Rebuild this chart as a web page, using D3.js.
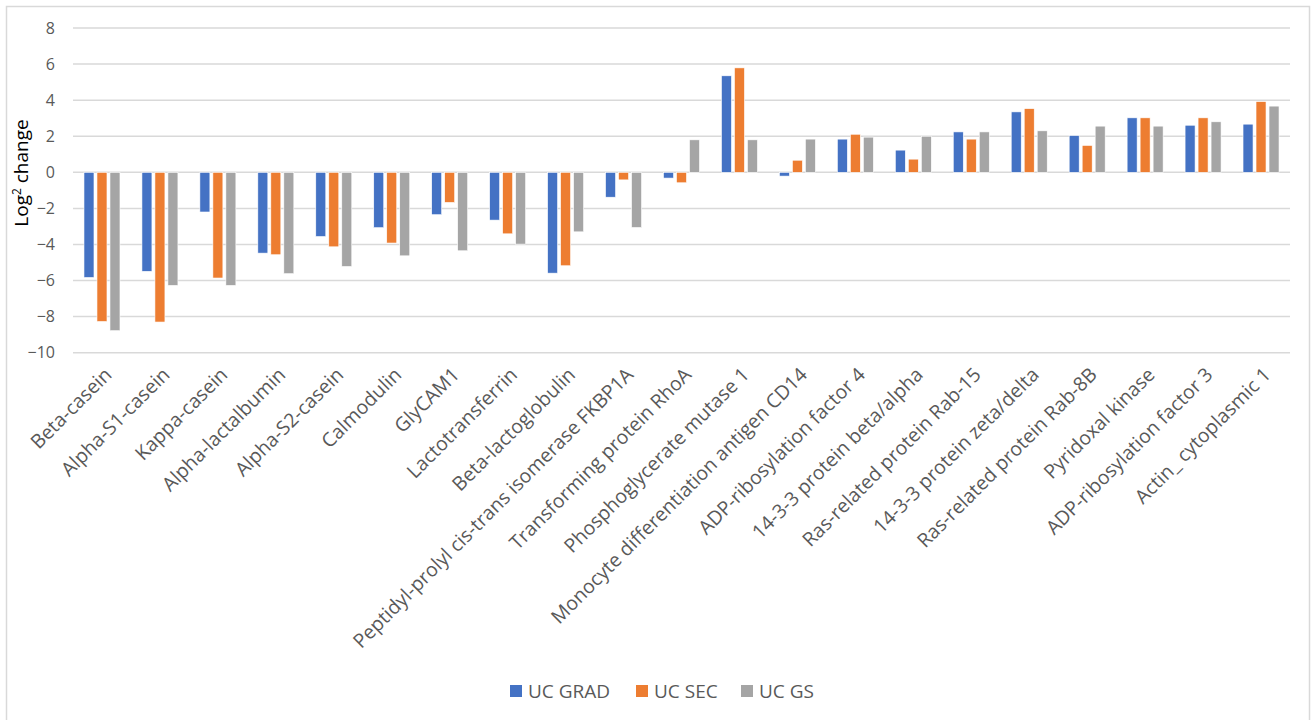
<!DOCTYPE html>
<html>
<head>
<meta charset="utf-8">
<script src="https://cdn.jsdelivr.net/npm/d3@7"></script>
<style>
  body { margin: 0; background: #fff; }
  text { font-family: "Open Sans", Lato, sans-serif; }
</style>
</head>
<body>
<div id="chart"></div>
<script>
// categories and series values (log2 change)
var categories = ["Beta-casein", "Alpha-S1-casein", "Kappa-casein", "Alpha-lactalbumin",
  "Alpha-S2-casein", "Calmodulin", "GlyCAM1", "Lactotransferrin", "Beta-lactoglobulin",
  "Peptidyl-prolyl cis-trans isomerase FKBP1A", "Transforming protein RhoA",
  "Phosphoglycerate mutase 1", "Monocyte differentiation antigen CD14",
  "ADP-ribosylation factor 4", "14-3-3 protein beta/alpha", "Ras-related protein Rab-15",
  "14-3-3 protein zeta/delta", "Ras-related protein Rab-8B", "Pyridoxal kinase",
  "ADP-ribosylation factor 3", "Actin_ cytoplasmic 1"];

var seriesNames = ["UC GRAD", "UC SEC", "UC GS"];

var ucGrad = [-5.83, -5.49, -2.2, -4.48, -3.56, -3.07, -2.35, -2.65, -5.59, -1.38, -0.32,
  5.35, -0.21, 1.84, 1.23, 2.24, 3.35, 2.04, 3.02, 2.61, 2.67];
var ucSec = [-8.27, -8.3, -5.86, -4.57, -4.13, -3.92, -1.67, -3.41, -5.18, -0.42, -0.58,
  5.79, 0.67, 2.11, 0.73, 1.84, 3.53, 1.49, 3.02, 3.02, 3.92];
var ucGs = [-8.78, -6.27, -6.27, -5.62, -5.22, -4.63, -4.35, -3.98, -3.3, -3.06, 1.8,
  1.8, 1.84, 1.95, 2.0, 2.24, 2.3, 2.56, 2.56, 2.8, 3.67];

var yTicks = [-10, -8, -6, -4, -2, 0, 2, 4, 6, 8];
var colors = ["#4472C4", "#ED7D31", "#A5A5A5"];

var W = 1311, H = 720;
var plot = {left: 73, right: 1290, top: 28, bottom: 352.7};

var svg = d3.select("#chart").append("svg")
    .attr("width", W)
    .attr("height", H);

// chart frame
svg.append("rect")
    .attr("x", 6.5).attr("y", 6.5)
    .attr("width", 1303).attr("height", 730)
    .attr("fill", "#fff")
    .attr("stroke", "#D9D9D9")
    .attr("stroke-width", 1.5);

var x0 = d3.scaleBand()
    .domain(categories)
    .range([plot.left, plot.right]);

var x1 = d3.scaleBand()
    .domain(seriesNames)
    .range([0, 36])
    .paddingInner(0.23);

var y = d3.scaleLinear()
    .domain([-10, 8])
    .range([plot.bottom, plot.top]);

// gridlines
svg.append("g")
  .selectAll("line")
  .data(yTicks)
  .enter().append("line")
    .attr("x1", plot.left).attr("x2", plot.right)
    .attr("y1", function(d) { return y(d); })
    .attr("y2", function(d) { return y(d); })
    .attr("stroke", "#D9D9D9")
    .attr("stroke-width", 1.5);

// y axis labels
var yAxis = svg.append("g")
    .attr("transform", "translate(" + (plot.left - 18) + ",0)")
    .call(d3.axisLeft(y).tickValues(yTicks).tickSize(0).tickPadding(0));
yAxis.select(".domain").remove();
yAxis.selectAll("text")
    .attr("fill", "#595959")
    .style("font-family", "'Open Sans', sans-serif")
    .style("font-size", "16px");

// y title
svg.append("text")
    .attr("transform", "translate(28,173) rotate(-90)")
    .attr("text-anchor", "middle")
    .attr("fill", "#000")
    .style("font-size", "19px")
    .html('Log<tspan dy="-7" font-size="12px">2</tspan><tspan dy="7"> change</tspan>');

// bars
var rows = categories.map(function(c, i) {
  return {cat: c, vals: [ucGrad[i], ucSec[i], ucGs[i]]};
});

var groups = svg.append("g")
  .selectAll("g")
  .data(rows)
  .enter().append("g")
    .attr("transform", function(d) {
      return "translate(" + (x0(d.cat) + (x0.bandwidth() - 36) / 2) + ",0)";
    });

groups.selectAll("rect")
  .data(function(d) {
    return d.vals.map(function(v, j) { return {s: seriesNames[j], v: v, j: j}; });
  })
  .enter().append("rect")
    .attr("x", function(d) { return x1(d.s); })
    .attr("y", function(d) { return y(Math.max(0, d.v)); })
    .attr("width", x1.bandwidth())
    .attr("height", function(d) { return Math.abs(y(d.v) - y(0)); })
    .attr("fill", function(d) { return colors[d.j]; })
    .attr("stroke", "#fff")
    .attr("stroke-width", 0.6);

// x labels
svg.append("g")
  .selectAll("text")
  .data(categories)
  .enter().append("text")
    .attr("transform", function(d) {
      return "translate(" + (x0(d) + x0.bandwidth() / 2 + 1) + ",366) rotate(-45)";
    })
    .attr("text-anchor", "end")
    .attr("dy", "0.72em")
    .attr("fill", "#595959")
    .style("font-size", "19.5px")
    .text(function(d) { return d; });

// legend
var legendX = [510, 636, 741];
var legend = svg.append("g")
  .selectAll("g")
  .data(seriesNames)
  .enter().append("g")
    .attr("transform", function(d, i) { return "translate(" + legendX[i] + ",685)"; });

legend.append("rect")
    .attr("width", 12).attr("height", 12)
    .attr("fill", function(d, i) { return colors[i]; });

legend.append("text")
    .attr("x", 18).attr("y", 13)
    .attr("fill", "#595959")
    .style("font-size", "19px")
    .text(function(d) { return d; });
</script>
</body>
</html>
